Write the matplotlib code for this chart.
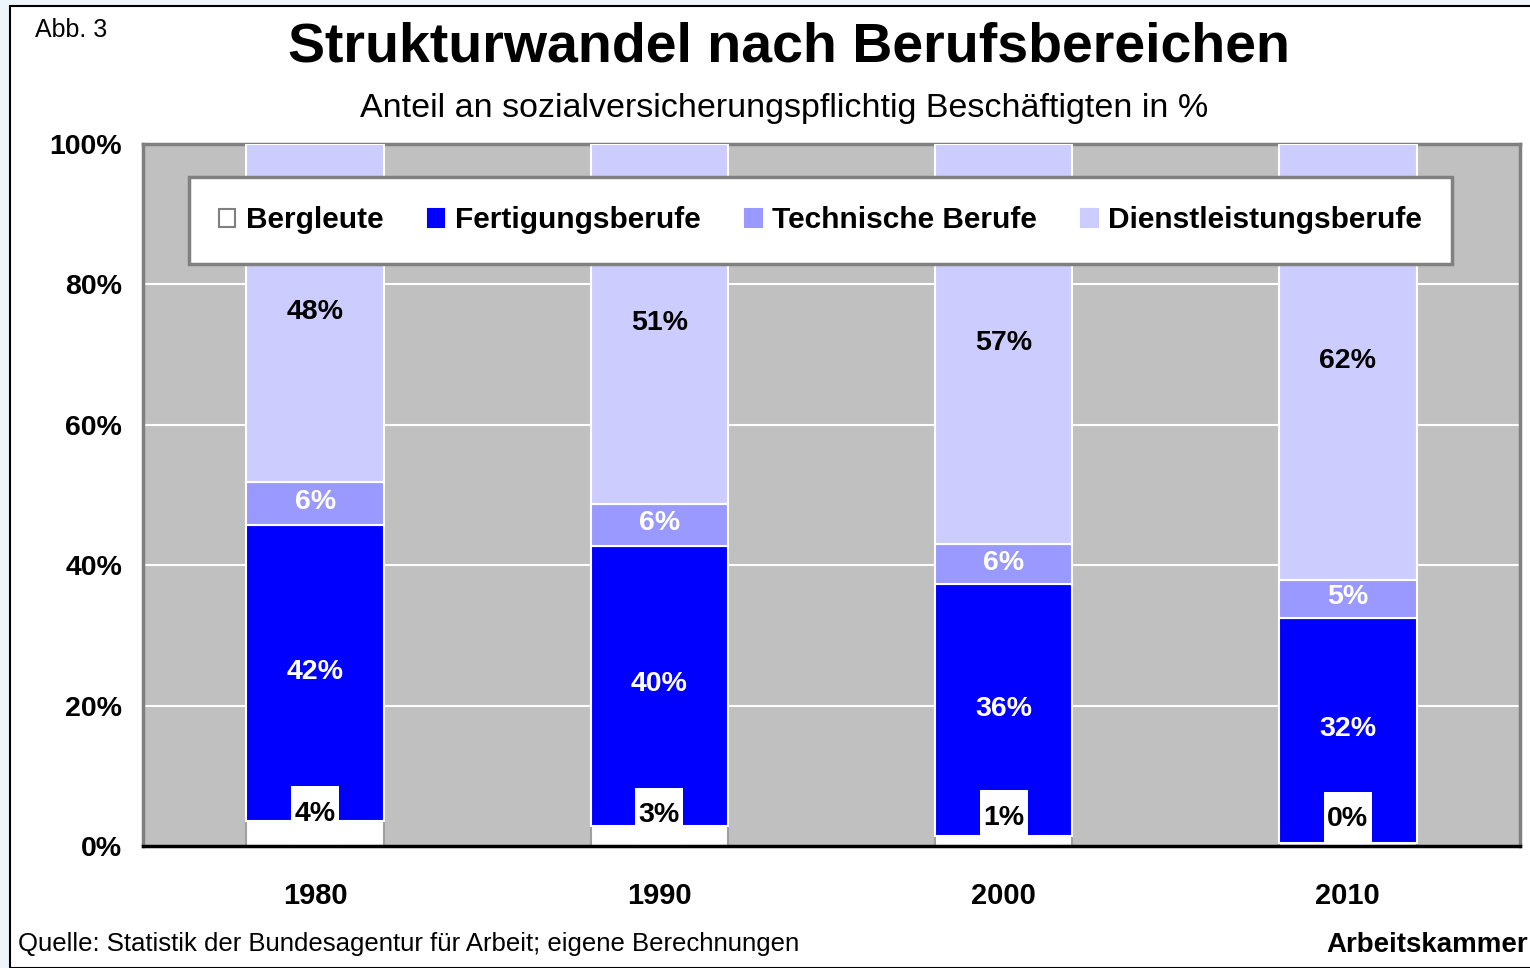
import numpy as np
import matplotlib.pyplot as plt
from matplotlib.patches import Rectangle, Patch

# data (share of employees in %)
years = ['1980', '1990', '2000', '2010']
bergleute = [3.6, 2.9, 1.4, 0.4]
fertigung = [42.1, 39.9, 35.9, 32.1]
technik = [6.1, 5.9, 5.7, 5.4]
dienst = [48.2, 51.3, 57.0, 62.1]
series_names = ['Bergleute', 'Fertigungsberufe', 'Technische Berufe', 'Dienstleistungsberufe']

colors = ['#ffffff', '#0000ff', '#9999ff', '#ccccff']
fonts = ['Liberation Sans', 'DejaVu Sans']
plt.rcParams['font.family'] = fonts

fig = plt.figure(figsize=(15.3, 9.68), dpi=100)
fig.patch.set_facecolor('#eef6fc')
# white frame with black border
fig.patches.append(Rectangle((10 / 1530, 0), 1.2, 1 - 6 / 968, transform=fig.transFigure,
                             facecolor='white', edgecolor='black', linewidth=1.5, zorder=-1))

ax = fig.add_axes([143 / 1530, 1 - 846 / 968, 1377 / 1530, 702 / 968])
ax.set_facecolor('#c0c0c0')

x = np.arange(len(years))
w = 0.40
series = [bergleute, fertigung, technik, dienst]
bottom = np.zeros(len(years))
for vals, col in zip(series, colors):
    ec = '#a0a0a0' if col == '#ffffff' else 'white'
    ax.bar(x, vals, w, bottom=bottom, color=col, edgecolor=ec, linewidth=1.5, zorder=3)
    bottom += np.array(vals)

# segment labels
bottom = np.array(bergleute, dtype=float)
for vals, tc in zip(series[1:], ['white', 'white', 'black']):
    for i, v in enumerate(vals):
        ax.text(x[i], bottom[i] + v / 2 + 0.2, f'{round(v)}%', ha='center', va='center',
                color=tc, fontsize=20.5, fontweight='bold', zorder=5)
    bottom += np.array(vals)

# Bergleute labels in white boxes
for i, v in enumerate(bergleute):
    ty = 3.7 + 0.25 * v
    ax.add_patch(Rectangle((x[i] - 0.07, 0), 0.14, ty + 3.9, facecolor='white',
                           edgecolor='none', zorder=4, clip_on=False))
    ax.text(x[i], ty, f'{round(v)}%', ha='center', va='center', color='black',
            fontsize=20.5, fontweight='bold', zorder=5)

ax.set_xlim(-0.5, 3.5)
ax.set_ylim(0, 100)
ax.set_yticks(np.arange(0, 101, 20))
ax.set_yticklabels([f'{t}%' for t in range(0, 101, 20)], fontsize=20.5, fontweight='bold')
ax.set_xticks(x)
ax.set_xticklabels(years, fontsize=21, fontweight='bold')
ax.tick_params(axis='x', length=0, pad=26)
ax.tick_params(axis='y', length=0, pad=15)
ax.grid(axis='y', color='white', linewidth=1.5, zorder=1)
for side in ['top', 'right', 'left']:
    ax.spines[side].set_color('#808080')
    ax.spines[side].set_linewidth(2.5)
ax.spines['bottom'].set_color('black')
ax.spines['bottom'].set_linewidth(2.5)
ax.spines['bottom'].set_zorder(6)

handles = [Patch(facecolor=c, edgecolor=('#808080' if c == '#ffffff' else c), linewidth=1.5)
           for c in colors]
leg = fig.legend(handles, series_names, ncol=4, loc='center',
                 bbox_to_anchor=(174 / 1530, 1 - 265 / 968, 1293 / 1530, 89 / 968),
                 mode='expand', fancybox=False, framealpha=1, edgecolor='#808080',
                 borderpad=1.0, handlelength=0.55, handleheight=0.55, handletextpad=0.35,
                 columnspacing=1.5, prop={'family': fonts, 'weight': 'bold', 'size': 21.5})
leg.get_frame().set_linewidth(2.5)

fig.text(789 / 1530, 1 - 47 / 968, 'Strukturwandel nach Berufsbereichen', ha='center', va='center',
         fontsize=40, fontweight='bold')
fig.text(784 / 1530, 1 - 109 / 968, 'Anteil an sozialversicherungspflichtig Beschäftigten in %',
         ha='center', va='center', fontsize=24.5)
fig.text(35 / 1530, 1 - 30 / 968, 'Abb. 3', ha='left', va='center', fontsize=18)
fig.text(18 / 1530, 1 - 944 / 968, 'Quelle: Statistik der Bundesagentur für Arbeit; eigene Berechnungen',
         ha='left', va='center', fontsize=18.5)
fig.text(1528 / 1530, 1 - 945 / 968, 'Arbeitskammer', ha='right', va='center', fontsize=20,
         fontweight='bold')

fig.savefig('out.png', dpi=100, facecolor=fig.get_facecolor())
